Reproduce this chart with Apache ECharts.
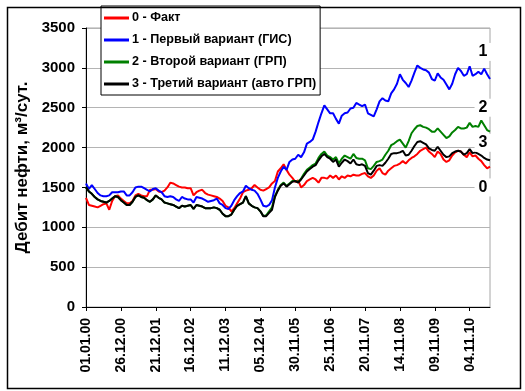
<!DOCTYPE html>
<html><head><meta charset="utf-8">
<script src="https://cdn.jsdelivr.net/npm/echarts@6/dist/echarts.min.js"></script>
<style>html,body{margin:0;padding:0;background:#fff}#c{width:525px;height:391px}</style>
</head><body><div id="c"></div>
<script>
// category dates: 30-day steps starting 01.01.2000 (140 points)
const startDate = Date.UTC(2000, 0, 1);
const stepDays = 30;
const nPoints = 140;
const categories = [];
for (let i = 0; i < nPoints; i++) {
  const d = new Date(startDate + i * stepDays * 86400000);
  const dd = String(d.getUTCDate()).padStart(2, '0');
  const mm = String(d.getUTCMonth() + 1).padStart(2, '0');
  const yy = String(d.getUTCFullYear() % 100).padStart(2, '0');
  categories.push(dd + '.' + mm + '.' + yy);
}

const seriesNames = ['0 - Факт', '1 - Первый вариант (ГИС)', '2 - Второй вариант (ГРП)', '3 - Третий вариант (авто ГРП)'];

const fact = [
  1370,1280,1270,1260,1250,1270,1290,1300,1220,1330,1390,1400,
  1360,1330,1300,1300,1330,1400,1420,1400,1390,1390,1470,1470,
  1480,1450,1440,1460,1500,1560,1550,1530,1510,1500,1500,1490,
  1490,1400,1440,1460,1470,1430,1410,1400,1390,1380,1360,1330,
  1270,1250,1200,1240,1300,1360,1440,1460,1470,1490,1530,1500,
  1470,1460,1480,1500,1550,1580,1700,1740,1790,1720,1660,1620,
  1570,1590,1500,1530,1580,1600,1620,1600,1560,1620,1620,1610,
  1650,1620,1650,1600,1640,1620,1650,1640,1660,1650,1650,1670,
  1680,1640,1620,1650,1710,1740,1680,1660,1710,1740,1770,1780,
  1800,1830,1800,1840,1870,1890,1920,1960,1980,2000,1950,1920,
  1880,1950,1920,1850,1820,1840,1900,1940,1960,1950,1910,1880,
  1940,1890,1900,1860,1830,1780,1740,1760
];
const variant1 = [
  1550,1480,1530,1480,1430,1400,1390,1390,1400,1440,1440,1440,
  1450,1450,1400,1400,1440,1500,1510,1510,1490,1470,1450,1480,
  1490,1460,1440,1390,1380,1390,1380,1350,1330,1380,1360,1350,
  1350,1310,1380,1370,1360,1340,1320,1330,1340,1360,1300,1280,
  1240,1230,1270,1340,1390,1430,1450,1520,1490,1470,1460,1420,
  1350,1270,1260,1280,1340,1500,1620,1700,1760,1720,1820,1850,
  1860,1910,1880,1940,2050,2070,2100,2200,2320,2430,2530,2480,
  2430,2430,2360,2300,2400,2430,2440,2490,2500,2560,2540,2520,
  2540,2430,2410,2390,2480,2580,2620,2590,2580,2680,2730,2800,
  2920,2850,2810,2760,2840,2940,3030,3000,2980,2970,2940,2860,
  2840,2930,2880,2850,2790,2730,2800,2920,3000,2960,2900,2920,
  3020,2900,2920,2950,2920,2990,2920,2860
];
const variant2 = [
  1500,1450,1420,1380,1350,1330,1320,1310,1330,1360,1390,1380,
  1340,1310,1280,1280,1320,1380,1400,1380,1370,1340,1320,1350,
  1400,1370,1350,1310,1300,1290,1280,1260,1240,1270,1260,1270,
  1280,1230,1280,1270,1260,1240,1240,1240,1250,1240,1220,1170,
  1140,1140,1160,1220,1270,1290,1310,1390,1300,1270,1250,1240,
  1200,1140,1150,1200,1250,1390,1470,1530,1560,1520,1550,1580,
  1580,1570,1610,1670,1720,1750,1780,1800,1870,1920,1950,1900,
  1880,1850,1880,1800,1860,1900,1880,1860,1920,1870,1860,1860,
  1840,1740,1730,1770,1820,1830,1850,1910,1960,2030,2050,2080,
  2100,2050,2000,2080,2180,2230,2270,2280,2260,2250,2230,2200,
  2200,2240,2200,2160,2120,2140,2190,2220,2260,2240,2240,2250,
  2310,2260,2270,2260,2340,2280,2220,2200
];
const variant3 = [
  1500,1450,1420,1380,1350,1330,1320,1310,1330,1360,1390,1380,
  1340,1310,1280,1280,1320,1380,1400,1380,1370,1340,1320,1350,
  1400,1370,1350,1310,1300,1290,1280,1260,1240,1270,1260,1270,
  1280,1230,1280,1270,1260,1240,1240,1240,1250,1240,1220,1170,
  1140,1140,1160,1220,1270,1290,1310,1390,1300,1270,1250,1240,
  1200,1140,1140,1180,1220,1380,1460,1520,1550,1510,1540,1570,
  1580,1560,1600,1650,1700,1730,1760,1780,1840,1890,1920,1880,
  1860,1820,1850,1760,1810,1850,1830,1800,1850,1790,1780,1790,
  1770,1680,1660,1710,1770,1780,1770,1810,1860,1920,1930,1930,
  1940,1960,1900,1910,1960,2020,2070,2080,2060,2040,1990,1970,
  1960,2010,1960,1910,1880,1890,1930,1950,1960,1950,1910,1930,
  1980,1930,1940,1920,1900,1870,1850,1840
];
const seriesData = [fact, variant1, variant2, variant3];
const seriesColors = ['#ff0000', '#0000ff', '#008000', '#000000'];
const curveLabels = ['0', '1', '2', '3'];
const yTicks = [0, 500, 1000, 1500, 2000, 2500, 3000, 3500];

const FONT = 'Arial, "Liberation Sans", sans-serif';
const chart = echarts.init(document.getElementById('c'), null, {renderer: 'canvas'});

const option = {
  animation: false,
  backgroundColor: '#ffffff',
  grid: {left: 86, top: 28, right: 35, bottom: 84, show: true, borderColor: '#a6a6a6', borderWidth: 1},
  legend: {
    orient: 'vertical', left: 101, top: 6,
    padding: [5, 4, 4, 3],
    itemGap: 8, itemWidth: 25, itemHeight: 3,
    icon: 'rect',
    backgroundColor: '#ffffff', borderColor: '#000000', borderWidth: 1,
    textStyle: {fontFamily: FONT, fontWeight: 'bold', fontSize: 12.6, color: '#000', lineHeight: 14, padding: [0,0,0,-2]},
    data: seriesNames
  },
  xAxis: {
    type: 'category', data: categories, boundaryGap: false,
    axisLine: {lineStyle: {color: '#000', width: 1}},
    axisTick: {interval: 11, length: 4, lineStyle: {color: '#000'}},
    axisLabel: {interval: 11, rotate: 90, margin: 11, fontFamily: FONT, fontWeight: 'bold', fontSize: 14, color: '#000'},
    splitLine: {show: false}
  },
  yAxis: {
    type: 'value', min: yTicks[0], max: yTicks[yTicks.length - 1], interval: 500,
    name: 'Дебит нефти, м³/сут.', nameLocation: 'middle', nameGap: 45,
    nameTextStyle: {fontFamily: FONT, fontWeight: 'bold', fontSize: 17, color: '#000'},
    axisLine: {show: true, lineStyle: {color: '#000', width: 1}},
    axisTick: {show: true, length: 4, lineStyle: {color: '#000'}},
    axisLabel: {margin: 11, fontFamily: FONT, fontWeight: 'bold', fontSize: 15, color: '#000', formatter: v => String(v)},
    splitLine: {lineStyle: {color: '#b4b4b4', width: 1}}
  },
  series: seriesNames.map((n, k) => ({
    name: n, type: 'line', data: seriesData[k], showSymbol: false, symbol: 'none',
    lineStyle: {color: seriesColors[k], width: 2}, itemStyle: {color: seriesColors[k]},
    z: 2 + k
  })),
  graphic: [
    {type: 'rect', left: 5, top: 5, shape: {width: 513, height: 381}, style: {fill: 'none', stroke: '#000', lineWidth: 1.5}, z: 100, silent: true}
  ]
};
chart.setOption(option);

// curve number labels placed at their value near the right edge
const labelValues = [1500, 3200, 2500, 2060];
const g = option.graphic.slice();
curveLabels.forEach((t, k) => {
  const p = chart.convertToPixel({gridIndex: 0}, [categories[nPoints - 1], labelValues[k]]);
  g.push({type: 'text', x: p[0] - 7, y: p[1], z: 50,
    style: {text: t, fontFamily: FONT, fontWeight: 'bold', fontSize: 16, fill: '#000',
      align: 'center', verticalAlign: 'middle', backgroundColor: '#fff', padding: [1, 4, 1, 4]}});
});
chart.setOption({graphic: g});
</script></body></html>
